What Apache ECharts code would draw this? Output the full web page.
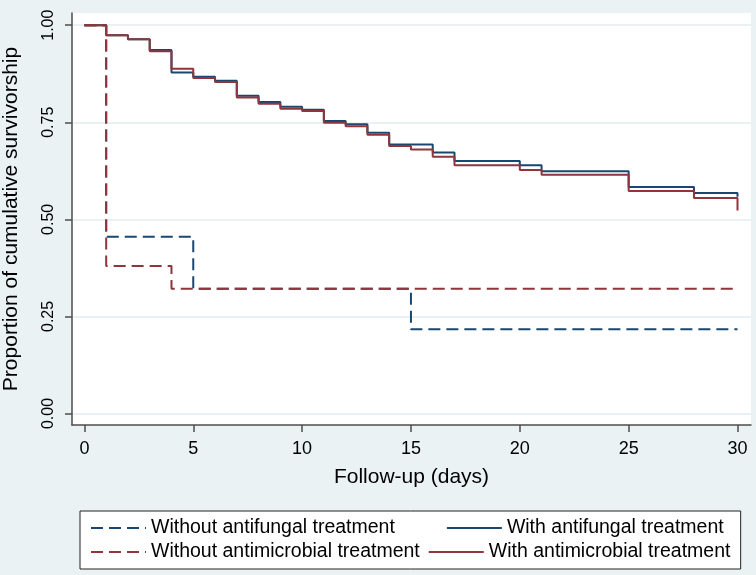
<!DOCTYPE html>
<html>
<head>
<meta charset="utf-8">
<script src="https://cdn.jsdelivr.net/npm/echarts@6/dist/echarts.min.js"></script>
<style>
html, body { margin: 0; padding: 0; background: #eaf2f3; }
#km { width: 756px; height: 575px; }
</style>
</head>
<body>
<div id="km"></div>
<script>
// survival estimates (day, proportion)
var noFungalDays = [0, 1, 5, 15, 30];
var noFungalVals = [1.0, 0.455, 0.321, 0.217, 0.217];

var fungalDays = [0, 1, 2, 3, 4, 5, 6, 7, 8, 9, 10, 11, 12, 13, 14, 16, 17, 20, 21, 25, 28, 30];
var fungalVals = [1.0, 0.974, 0.964, 0.936, 0.878, 0.867, 0.857, 0.818, 0.802, 0.790, 0.782,
    0.753, 0.745, 0.723, 0.693, 0.672, 0.650, 0.639, 0.624, 0.583, 0.568, 0.558];

var noMicroDays = [0, 1, 4, 30];
var noMicroVals = [1.0, 0.380, 0.321, 0.321];

var microDays = [0, 1, 2, 3, 4, 5, 6, 7, 8, 9, 10, 11, 12, 13, 14, 15, 16, 17, 20, 21, 25, 28, 30];
var microVals = [1.0, 0.974, 0.964, 0.933, 0.888, 0.864, 0.854, 0.814, 0.798, 0.785, 0.779,
    0.749, 0.740, 0.718, 0.689, 0.680, 0.661, 0.639, 0.627, 0.615, 0.573, 0.555, 0.523];

var seriesNames = ['Without antifungal treatment', 'With antifungal treatment',
    'Without antimicrobial treatment', 'With antimicrobial treatment'];
var xTicks = [0, 5, 10, 15, 20, 25, 30];
var yTicks = [0, 0.25, 0.5, 0.75, 1];

var navy = '#1a476f';
var maroon = '#90353b';
var axisGray = '#4d4d4d';
var font = 'Liberation Sans, Arial, sans-serif';

function pairs(xs, ys) {
    return xs.map(function (x, i) { return [x, ys[i]]; });
}

function stepLine(name, xs, ys, color, dashed) {
    return {
        name: name,
        type: 'line',
        step: 'end',
        symbol: 'none',
        lineStyle: {
            color: color,
            width: 2,
            type: dashed ? [12, 6] : 'solid'
        },
        itemStyle: { color: color },
        data: pairs(xs, ys)
    };
}

// two legend rows; the first one carries the white box with its border
var legendBase = {
    orient: 'horizontal',
    itemWidth: 55,
    itemHeight: 14,
    itemStyle: { opacity: 0 },
    textStyle: { fontSize: 19.5, color: '#000', fontFamily: font }
};

var dom = document.getElementById('km');
var myChart = echarts.init(dom);
var option = null;
myChart.setOption(option = {
    animation: false,
    backgroundColor: '#eaf2f3',
    textStyle: { fontFamily: font },
    grid: {
        left: 72,
        right: 5,
        top: 13,
        bottom: 150,
        outerBoundsMode: 'none',
        containLabel: false,
        show: true,
        backgroundColor: '#ffffff',
        borderWidth: 0
    },
    legend: [
        Object.assign({}, legendBase, {
            left: 80,
            top: 511,
            itemGap: 51,
            padding: [7, 17, 31, 10],
            backgroundColor: '#ffffff',
            borderColor: '#222',
            borderWidth: 1,
            data: seriesNames.slice(0, 2)
        }),
        Object.assign({}, legendBase, {
            left: 90,
            top: 542,
            itemGap: 8,
            padding: 0,
            data: seriesNames.slice(2, 4)
        })
    ],
    xAxis: {
        type: 'value',
        min: -0.57,
        max: 30.62,
        name: 'Follow-up (days)',
        nameLocation: 'middle',
        nameGap: 42,
        nameTextStyle: { fontSize: 21, color: '#000', fontFamily: font },
        axisLine: { show: true, onZero: false, lineStyle: { color: axisGray, width: 1.5 } },
        axisTick: { show: true, length: 7, customValues: xTicks, lineStyle: { color: axisGray, width: 1.5 } },
        axisLabel: { customValues: xTicks, fontSize: 18, color: '#000', margin: 15 },
        splitLine: { show: false }
    },
    yAxis: {
        type: 'value',
        min: -0.0296,
        max: 1.0314,
        name: 'Proportion of cumulative survivorship',
        nameLocation: 'middle',
        nameGap: 50,
        nameTextStyle: { fontSize: 21, color: '#000', fontFamily: font },
        axisLine: { show: true, onZero: false, lineStyle: { color: axisGray, width: 1.5 } },
        axisTick: { show: true, length: 7, customValues: yTicks, lineStyle: { color: axisGray, width: 1.5 } },
        axisLabel: {
            customValues: yTicks,
            rotate: 90,
            fontSize: 16,
            color: '#000',
            margin: 15,
            formatter: function (v) { return v.toFixed(2); }
        },
        splitLine: { show: true, lineStyle: { color: '#e3edf0', width: 1.5 } }
    },
    series: [
        stepLine(seriesNames[0], noFungalDays, noFungalVals, navy, true),
        stepLine(seriesNames[1], fungalDays, fungalVals, navy, false),
        stepLine(seriesNames[2], noMicroDays, noMicroVals, maroon, true),
        stepLine(seriesNames[3], microDays, microVals, maroon, false)
    ]
});
</script>
</body>
</html>
